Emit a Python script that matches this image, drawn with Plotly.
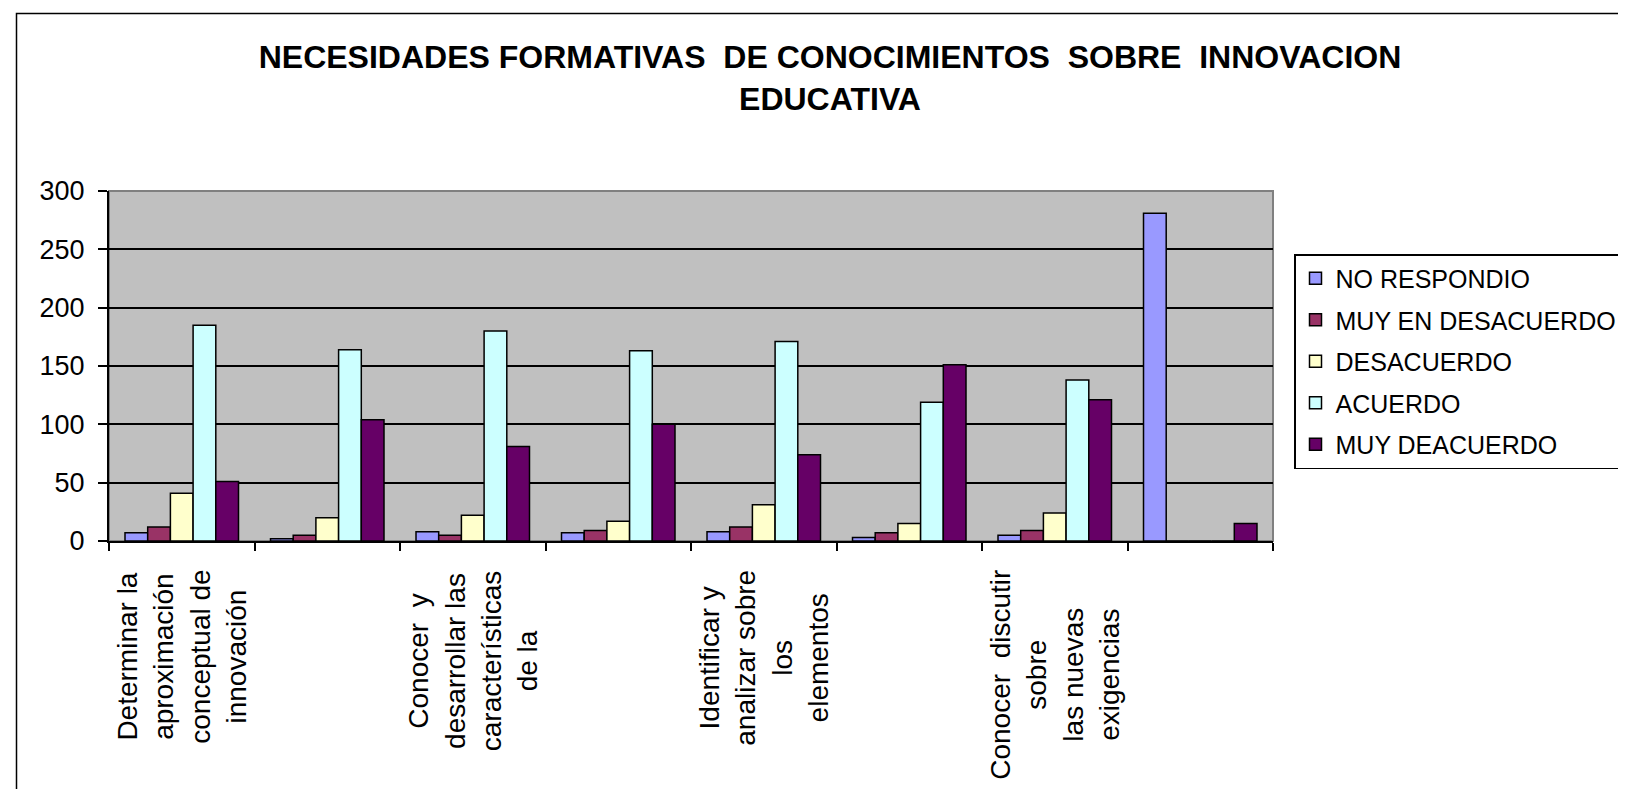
import plotly.graph_objects as go

# ---- data ----
categories = [
    "Determinar la<br>aproximación<br>conceptual de<br>innovación",
    "",
    "Conocer  y<br>desarrollar las<br>características<br>de la",
    "",
    "Identificar y<br>analizar sobre<br>los<br>elementos",
    "",
    "Conocer  discutir<br>sobre<br>las nuevas<br>exigencias",
    "",
]
series_names = ["NO RESPONDIO", "MUY EN DESACUERDO", "DESACUERDO", "ACUERDO", "MUY DEACUERDO"]
no_respondio = [7, 2, 8, 7, 8, 3, 5, 281]
muy_en_desacuerdo = [12, 5, 5, 9, 12, 7, 9, 0]
desacuerdo = [41, 20, 22, 17, 31, 15, 24, 0]
acuerdo = [185, 164, 180, 163, 171, 119, 138, 0]
muy_deacuerdo = [51, 104, 81, 100, 74, 151, 121, 15]
series_values = [no_respondio, muy_en_desacuerdo, desacuerdo, acuerdo, muy_deacuerdo]
colors = ["#9999FF", "#993366", "#FFFFCC", "#CCFFFF", "#660066"]
y_ticks = [0, 50, 100, 150, 200, 250, 300]

FONT = "Liberation Sans, Arial, sans-serif"
W, H = 1626, 789
ML, MR, MT, MB = 101, 361, 183, 256
PW, PH = W - ML - MR, H - MT - MB

xpos = list(range(len(categories)))

fig = go.Figure()
for name, vals, col in zip(series_names, series_values, colors):
    fig.add_trace(go.Bar(
        x=xpos, y=vals, name=name, legendgroup=name,
        marker=dict(color=col, line=dict(color="black", width=1.5)),
    ))

# category labels (rotated, centered lines)
for i, lab in enumerate(categories):
    if lab:
        fig.add_annotation(
            x=i, xref="x", y=-27 / PH, yref="paper",
            text=lab, textangle=-90, showarrow=False,
            xanchor="center", yanchor="top", align="center",
            font=dict(family=FONT, size=28, color="black"),
        )

def px_x(p):
    return (p - ML) / PW

def px_y(p):
    return (H - MB - p) / PH

shapes = [
    # plot-area frame (gray top/right)
    dict(type="rect", xref="paper", yref="paper", x0=0, x1=1, y0=0, y1=1,
         line=dict(color="#808080", width=2), layer="below"),
    # outer chart border
    dict(type="rect", xref="paper", yref="paper",
         x0=px_x(8.5), x1=px_x(1650), y0=px_y(820), y1=px_y(5.5),
         line=dict(color="black", width=1.5), fillcolor="rgba(0,0,0,0)", layer="above"),
]

fig.update_layout(
    width=W, height=H,
    margin=dict(l=ML, r=MR, t=MT, b=MB, autoexpand=False),
    paper_bgcolor="white", plot_bgcolor="#C0C0C0",
    barmode="group", bargap=0.22, bargroupgap=0,
    font=dict(family=FONT, size=26, color="black"),
    title=dict(
        text="NECESIDADES FORMATIVAS  DE CONOCIMIENTOS  SOBRE  INNOVACION<br>EDUCATIVA",
        x=822 / W, xanchor="center", xref="container",
        y=1 - 60 / H, yanchor="top",
        font=dict(family=FONT, size=32, color="black", weight="bold"),
    ),
    xaxis=dict(
        range=[-0.5, len(categories) - 0.5],
        showticklabels=False, ticks="",
        showgrid=False, zeroline=False,
        showline=True, linecolor="black", linewidth=2,
        minor=dict(tickmode="array",
                   tickvals=[i - 0.5 for i in range(len(categories) + 1)],
                   ticks="outside", ticklen=8, tickwidth=2, tickcolor="black",
                   showgrid=False),
    ),
    yaxis=dict(
        range=[0, 300], tickmode="array", tickvals=y_ticks,
        ticks="outside", ticklen=9, tickwidth=2, tickcolor="black",
        showgrid=True, gridcolor="black", gridwidth=1.5,
        zeroline=False, showline=True, linecolor="black", linewidth=2,
        tickfont=dict(family=FONT, size=27, color="black"),
        ticklabelstandoff=8,
    ),
    legend=dict(
        x=px_x(1286), y=px_y(246), xanchor="left", yanchor="top",
        bgcolor="white", bordercolor="black", borderwidth=1.5,
        font=dict(family=FONT, size=25, color="black"),
        tracegroupgap=6, traceorder="grouped",
    ),
    shapes=shapes,
    showlegend=True,
)

fig.write_html("out.html")
